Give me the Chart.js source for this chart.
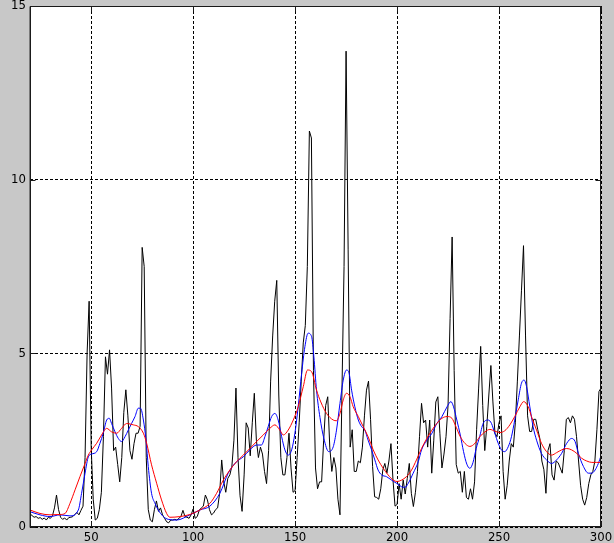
<!DOCTYPE html>
<html>
<head>
<meta charset="utf-8">
<title>Signal</title>
<script src="https://cdn.jsdelivr.net/npm/chart.js@4.4.1/dist/chart.umd.min.js"></script>
<style>
  html, body { margin: 0; padding: 0; background: #c8c8c8; }
  canvas { display: block; }
</style>
</head>
<body>
<canvas id="plot" width="614" height="543"></canvas>
<script>
// raw signal, one sample per step starting at 20
const signalStart = 20;
const signal = [
  0.38, 0.33, 0.28, 0.30, 0.25, 0.27, 0.22, 0.26, 0.20, 0.28,
  0.25, 0.32, 0.55, 0.92, 0.50, 0.28, 0.22, 0.26, 0.20, 0.27,
  0.28, 0.30, 0.36, 0.42, 0.35, 0.48, 0.60, 2.0, 5.0, 6.5,
  2.3, 0.8, 0.2, 0.25, 0.5, 1.0, 2.6, 4.9, 4.4, 5.1,
  4.0, 2.2, 2.3, 1.8, 1.3, 2.0, 3.3, 3.95, 3.2, 2.2,
  1.95, 2.4, 2.7, 2.7, 2.9, 8.05, 7.5, 2.0, 0.5, 0.2,
  0.15, 0.5, 0.75, 0.45, 0.55, 0.35, 0.25, 0.15, 0.12, 0.2,
  0.2, 0.22, 0.2, 0.25, 0.3, 0.48, 0.3, 0.28, 0.25, 0.35,
  0.52, 0.25, 0.3, 0.48, 0.55, 0.6, 0.92, 0.78, 0.5, 0.35,
  0.4, 0.5, 0.55, 0.97, 1.93, 1.3, 1.0, 1.4, 1.5, 1.75,
  2.5, 4.0, 2.0, 0.9, 0.45, 1.5, 3.0, 2.85, 2.05, 3.0,
  3.85, 2.5, 2.0, 2.3, 2.1, 1.6, 1.25, 2.2, 4.2, 5.5,
  6.5, 7.1, 3.8, 2.0, 1.5, 1.5, 2.0, 2.7, 1.7, 1.0,
  1.05, 2.0, 3.0, 4.2, 5.3, 5.8, 7.5, 11.4, 11.2, 4.5,
  1.7, 1.1, 1.3, 1.3, 2.5, 3.5, 3.75, 2.3, 1.6, 2.0,
  1.7, 0.8, 0.35, 4.0, 7.5, 13.7, 8.0, 2.3, 2.8, 1.6,
  1.6, 1.9, 1.85, 2.3, 3.2, 3.94, 4.2, 3.1, 1.74, 0.87,
  0.85, 0.8, 1.1, 1.64, 1.83, 1.55, 1.9, 2.4, 1.35, 0.6,
  0.65, 1.25, 0.8, 1.35, 0.95, 1.4, 1.83, 0.97, 0.59, 1.0,
  1.6, 2.6, 3.56, 3.0, 3.08, 2.3, 3.08, 1.55, 2.5, 3.6,
  3.75, 2.7, 1.7, 2.1, 2.6, 3.5, 6.0, 8.35, 4.5, 1.8,
  1.55, 1.6, 1.0, 1.6, 0.85, 0.8, 1.1, 0.8, 1.3, 2.8,
  4.0, 5.2, 3.5, 2.2, 2.9, 3.8, 4.65, 3.6, 2.7, 2.6,
  3.0, 3.2, 1.6, 0.8, 1.2, 1.9, 2.4, 2.3, 3.0, 4.2,
  5.5, 6.8, 8.1, 5.5, 3.2, 2.75, 2.75, 3.1, 3.1, 2.8,
  2.55, 1.9, 1.65, 0.97, 2.2, 2.4, 1.5, 1.35, 1.9, 1.85,
  1.7, 1.55, 2.2, 3.1, 3.15, 3.0, 3.2, 3.1, 2.6, 1.9,
  1.2, 0.8, 0.63, 0.85, 1.25, 1.5, 1.6, 1.9, 2.8, 3.9,
  4.0
];

// lightly smoothed curve (blue)
const fineX = [
  20, 24.9, 29.8, 34.7, 39.6, 43.7, 45.3, 47, 48.6, 50.2, 52.7, 54.3, 55.9, 57.6, 58.9,
  60, 61.7, 63.3, 64.9, 66.6, 68.2, 69.8, 71.5, 73.1, 74.2, 75.6, 76.9, 78, 79.6, 81.3,
  82.9, 85.4, 87.8, 91.9, 98.4, 103.3, 108.2, 113.1, 117.2, 121.3, 124.6, 127.8, 131.1, 133.5, 135.2,
  136.8, 138.5, 140.1, 141.7, 143.4, 145, 146.6, 148.3, 149.9, 151.5, 153.2, 154.8, 156.4, 158.1, 159.2,
  160.5, 162.2, 164.1, 166.5, 168.7, 170.3, 172, 173.6, 175.2, 176.5, 177.7, 179.3, 181, 182.6, 184.2,
  185.8, 187.5, 189.1, 190.7, 192.4, 194.8, 197.3, 199.7, 202.2, 203.8, 205.5, 207.9, 210.4, 212, 214.6,
  217.1, 219.5, 222, 224.5, 226.4, 227.7, 229.3, 231, 232.6, 234.2, 235.7, 237.2, 238.8, 240.5, 242.2,
  244.7, 246.3, 247.9, 249.6, 251.2, 252.8, 254.5, 256.1, 257.7, 259.4, 261, 262.3, 263.5, 265.1, 266.7,
  268.4, 270.8, 273.3, 275.8, 278.2, 280.7, 283.2, 285.6, 287.3, 288.9, 291.4, 293.8, 295.5, 297.1, 298.7,
  300
];
const fineY = [
  0.44, 0.35, 0.3, 0.35, 0.32, 0.49, 0.97, 1.55, 2.02, 2.1, 2.17, 2.41, 2.7, 3.08, 3.13,
  2.98, 2.74, 2.55, 2.46, 2.6, 2.79, 2.98, 3.18, 3.42, 3.42, 3.08, 2.5, 1.74, 0.97, 0.68,
  0.49, 0.3, 0.22, 0.2, 0.35, 0.49, 0.6, 0.97, 1.55, 1.88, 2.02, 2.22, 2.36, 2.36, 2.6,
  2.89, 3.18, 3.27, 3.08, 2.6, 2.22, 2.07, 2.22, 2.7, 3.46, 4.42, 5.19, 5.58, 5.48, 4.9,
  3.94, 3.15, 2.55, 2.17, 2.31, 2.79, 3.56, 4.23, 4.52, 4.42, 3.94, 3.46, 3.08, 2.89, 2.79,
  2.5, 2.22, 1.93, 1.64, 1.5, 1.45, 1.35, 1.26, 1.16, 1.14, 1.26, 1.55, 1.88, 2.22, 2.5,
  2.7, 2.98, 3.18, 3.46, 3.61, 3.46, 3.08, 2.65, 2.17, 1.81, 1.69, 1.85, 2.26, 2.6, 2.98,
  3.08, 2.98, 2.7, 2.41, 2.22, 2.17, 2.31, 2.6, 3.08, 3.66, 4.14, 4.23, 4.04, 3.46, 2.89,
  2.5, 2.12, 1.93, 1.83, 1.93, 2.12, 2.41, 2.55, 2.46, 2.12, 1.74, 1.55, 1.55, 1.64, 1.83,
  2.05
];

// heavily smoothed curve (red)
const coarseX = [
  20, 24.9, 29.8, 34.7, 37.2, 39.6, 42.1, 44.5, 47, 48.6, 50.2, 52.7, 55.1, 57.6, 60,
  62.5, 64.9, 67.4, 70.7, 73.1, 75.6, 77.2, 79.6, 82.1, 84.5, 87, 88.6, 93.5, 98.4, 103.3,
  108.2, 111.5, 114.8, 118, 121.3, 124.6, 127.8, 131.1, 134.4, 137.6, 140.1, 142.5, 144.2, 146.6, 149.1,
  151.5, 154, 156.1, 158.1, 160.5, 162.6, 165.4, 168.7, 170.3, 172, 173.6, 175.2, 176.9, 178.5, 181,
  183.4, 185.8, 188.3, 190.7, 193.2, 195.6, 198.1, 200, 202.2, 204.6, 207.1, 209.5, 212, 214.6, 217.1,
  219.5, 222, 224.5, 226.9, 228.5, 231, 233.4, 235.7, 238.2, 240.6, 243.1, 245.5, 247.9, 250.4, 252.8,
  255.3, 257.7, 260.2, 262.1, 264.3, 265.9, 268.4, 270.8, 273.3, 275.8, 278.2, 280.7, 283.2, 285.6, 288.1,
  290.5, 293, 295.5, 297.9, 300
];
const coarseY = [
  0.49, 0.39, 0.35, 0.36, 0.39, 0.68, 1.07, 1.45, 1.83, 2.07, 2.22, 2.41, 2.65, 2.84, 2.74,
  2.7, 2.84, 2.98, 2.94, 2.89, 2.7, 2.41, 1.79, 1.26, 0.78, 0.39, 0.28, 0.3, 0.36, 0.49,
  0.68, 0.97, 1.35, 1.64, 1.88, 2.07, 2.26, 2.46, 2.65, 2.84, 2.94, 2.79, 2.65, 2.79, 3.08,
  3.46, 4.04, 4.52, 4.47, 3.94, 3.6, 3.27, 3.08, 3.06, 3.27, 3.66, 3.85, 3.75, 3.46, 3.18,
  2.89, 2.6, 2.22, 1.93, 1.69, 1.5, 1.35, 1.31, 1.35, 1.45, 1.64, 1.93, 2.26, 2.55, 2.79,
  2.98, 3.13, 3.18, 3.13, 2.94, 2.6, 2.4, 2.32, 2.41, 2.6, 2.74, 2.81, 2.76, 2.72, 2.77,
  2.94, 3.18, 3.46, 3.61, 3.46, 3.18, 2.79, 2.41, 2.17, 2.07, 2.14, 2.22, 2.26, 2.22, 2.12,
  1.98, 1.9, 1.86, 1.86, 1.86
];

const xTickValues = [50, 100, 150, 200, 250, 300];
const yTickValues = [0, 5, 10, 15];

const toPoints = (xs, ys) => xs.map((x, i) => ({ x: x, y: ys[i] }));
const signalPoints = signal.map((y, i) => ({ x: signalStart + i, y: y }));

const tickFont = {
  family: "'Liberation Sans Narrow', 'DejaVu Sans Condensed', 'Liberation Sans', sans-serif",
  size: 13
};

// white plot area, closed box and short inward tick marks on every side
const plotFrame = {
  id: 'plotFrame',
  beforeDraw(chart) {
    const { ctx, chartArea: a } = chart;
    ctx.save();
    ctx.fillStyle = '#ffffff';
    ctx.fillRect(a.left, a.top, a.right - a.left, a.bottom - a.top);
    ctx.restore();
  },
  afterDraw(chart) {
    const { ctx, chartArea: a, scales } = chart;
    const left = Math.round(a.left) + 0.5;
    const top = Math.round(a.top) + 0.5;
    const right = Math.round(a.right) - 0.5;
    const bottom = Math.round(a.bottom) - 0.5;
    const len = 5;
    ctx.save();
    ctx.strokeStyle = '#1a1a1a';
    ctx.lineWidth = 1;
    ctx.strokeRect(left, top, right - left, bottom - top);
    ctx.beginPath();
    xTickValues.forEach(v => {
      const px = Math.round(scales.x.getPixelForValue(v)) + 0.5;
      ctx.moveTo(px, bottom); ctx.lineTo(px, bottom - len);
      ctx.moveTo(px, top); ctx.lineTo(px, top + len);
    });
    yTickValues.forEach(v => {
      const py = Math.round(scales.y.getPixelForValue(v)) + 0.5;
      ctx.moveTo(left, py); ctx.lineTo(left + len, py);
      ctx.moveTo(right, py); ctx.lineTo(right - len, py);
    });
    ctx.stroke();
    // darker shade along the left edge
    ctx.strokeStyle = '#7a7a7a';
    ctx.beginPath();
    ctx.moveTo(left - 1, top);
    ctx.lineTo(left - 1, bottom + 1);
    ctx.stroke();
    ctx.restore();
  }
};

const gridOpts = { color: '#000000', lineWidth: 1, drawTicks: false, borderDash: [3, 2] };
const borderOpts = { display: false, dash: [3, 2] };

new Chart(document.getElementById('plot'), {
  type: 'line',
  data: {
    datasets: [
      {
        data: signalPoints,
        borderColor: '#000000',
        borderWidth: 1,
        pointRadius: 0,
        tension: 0,
        order: 3
      },
      {
        data: toPoints(fineX, fineY),
        borderColor: '#0000ff',
        borderWidth: 1,
        pointRadius: 0,
        cubicInterpolationMode: 'monotone',
        order: 2
      },
      {
        data: toPoints(coarseX, coarseY),
        borderColor: '#ff0000',
        borderWidth: 1,
        pointRadius: 0,
        cubicInterpolationMode: 'monotone',
        order: 1
      }
    ]
  },
  options: {
    responsive: false,
    animation: false,
    layout: { padding: { top: 6, right: 13, left: 0, bottom: 0 } },
    plugins: {
      legend: { display: false },
      tooltip: { enabled: false }
    },
    scales: {
      x: {
        type: 'linear',
        min: 20,
        max: 300,
        afterBuildTicks: (scale) => { scale.ticks = xTickValues.map(v => ({ value: v })); },
        afterFit: (scale) => {
          scale.height = 16;
          scale.paddingLeft = 0;
          scale.paddingRight = 0;
        },
        grid: gridOpts,
        border: borderOpts,
        ticks: { color: '#000000', font: tickFont, padding: 3, maxRotation: 0, autoSkip: false }
      },
      y: {
        type: 'linear',
        min: 0,
        max: 15,
        afterBuildTicks: (scale) => { scale.ticks = yTickValues.map(v => ({ value: v })); },
        afterFit: (scale) => {
          scale.width = 30;
          scale.paddingTop = 0;
          scale.paddingBottom = 0;
        },
        grid: gridOpts,
        border: borderOpts,
        ticks: { color: '#000000', font: tickFont, padding: 4, autoSkip: false }
      }
    }
  },
  plugins: [plotFrame]
});
</script>
</body>
</html>
